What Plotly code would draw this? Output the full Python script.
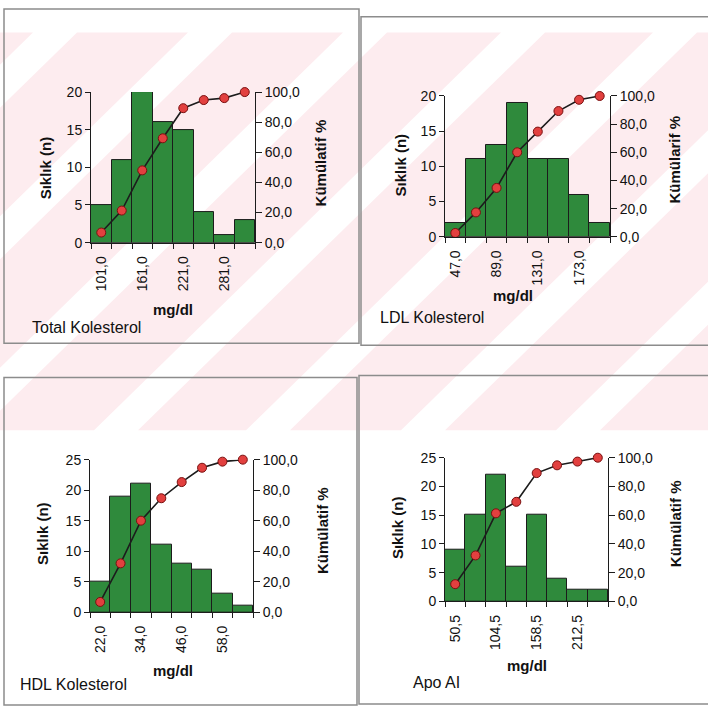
import plotly.graph_objects as go

W, H = 708, 715

# ---------------- data ----------------
bin_index = [0, 1, 2, 3, 4, 5, 6, 7]
label_index = [0, 2, 4, 6]

tc_counts = [5, 11, 20, 16, 15, 4, 1, 3]
tc_cum = [6.7, 21.3, 48.0, 69.3, 89.3, 94.7, 96.0, 100.0]
tc_ticks = ["101,0", "161,0", "221,0", "281,0"]

ldl_counts = [2, 11, 13, 19, 11, 11, 6, 2]
ldl_cum = [2.7, 17.3, 34.7, 60.0, 74.7, 89.3, 97.3, 100.0]
ldl_ticks = ["47,0", "89,0", "131,0", "173,0"]

hdl_counts = [5, 19, 21, 11, 8, 7, 3, 1]
hdl_cum = [6.7, 32.0, 60.0, 74.7, 85.3, 94.7, 98.7, 100.0]
hdl_ticks = ["22,0", "34,0", "46,0", "58,0"]

apo_counts = [9, 15, 22, 6, 15, 4, 2, 2]
apo_cum = [12.0, 32.0, 61.3, 69.3, 89.3, 94.7, 97.3, 100.0]
apo_ticks = ["50,5", "104,5", "158,5", "212,5"]

FONT = "Liberation Sans, Arial, sans-serif"
BAR = "#2f8a3c"
INK = "#1c1c1c"


def px(x):
    return x / W


def py(y):
    return 1 - y / H


panels = [
    dict(counts=tc_counts, cum=tc_cum, ticks=tc_ticks, ymax=20,
         plot=(91, 255, 86, 240), left=(45, 164), right=(320, 159, "Kümülatif %"),
         unit=(173, 308), name=(30, 327, "Total Kolesterol")),
    dict(counts=ldl_counts, cum=ldl_cum, ticks=ldl_ticks, ymax=20,
         plot=(445, 610, 90, 234), left=(400, 161), right=(675, 155, "Kümülarif %"),
         unit=(513, 294), name=(378, 317, "LDL Kolesterol")),
    dict(counts=hdl_counts, cum=hdl_cum, ticks=hdl_ticks, ymax=25,
         plot=(90, 253, 462, 618), left=(43, 538), right=(322, 535, "Kümülatif %"),
         unit=(173, 678), name=(18, 692, "HDL Kolesterol")),
    dict(counts=apo_counts, cum=apo_cum, ticks=apo_ticks, ymax=25,
         plot=(445, 608, 460, 607), left=(397, 532), right=(675, 528, "Kümülatif %"),
         unit=(527, 673), name=(411, 690, "Apo AI")),
]

fig = go.Figure()
annotations = []
shapes = []

# ---- faint watermark stripes (background decoration) ----
PINK = "#fdecef"
y_top, y_bot = 25, 432
for c1, c2 in [(-200, 58), (102, 213), (257, 368), (412, 526), (570, 678),
               (722, 833), (877, 988), (1032, 1140)]:
    pts = [(c1 - y_top, y_top), (c2 - y_top, y_top), (c2 - y_bot, y_bot), (c1 - y_bot, y_bot)]
    path = "M " + " L ".join(f"{px(a):.4f},{py(b):.4f}" for a, b in pts) + " Z"
    shapes.append(dict(type="path", path=path, xref="paper", yref="paper",
                       fillcolor=PINK, line=dict(width=0), layer="below"))

# ---- panel frames ----
for x0, x1, y0, y1 in [(4, 359, 1, 343), (361, 712, 9, 345), (4, 357, 378, 713), (359, 712, 376, 712)]:
    shapes.append(dict(type="rect", xref="paper", yref="paper",
                       x0=px(x0), x1=px(x1), y0=py(y1), y1=py(y0),
                       line=dict(color="#8c8c8c", width=1.5), fillcolor="rgba(0,0,0,0)",
                       layer="above"))

for i, p in enumerate(panels):
    n = i + 1
    xa = "x" if n == 1 else f"x{n}"
    ya = "y" if i == 0 else f"y{2 * i + 1}"
    ya2 = f"y{2 * i + 2}"
    xkey = "xaxis" if n == 1 else f"xaxis{n}"
    ykey = "yaxis" if i == 0 else f"yaxis{2 * i + 1}"
    y2key = f"yaxis{2 * i + 2}"
    L, R, T, B = p["plot"]

    fig.add_trace(go.Bar(x=bin_index, y=p["counts"], xaxis=xa, yaxis=ya, width=1,
                         marker=dict(color=BAR, line=dict(color=INK, width=1)),
                         showlegend=False, hoverinfo="y"))
    fig.add_trace(go.Scatter(x=bin_index, y=p["cum"], xaxis=xa, yaxis=ya2, mode="lines+markers",
                             line=dict(color=INK, width=1.6), cliponaxis=False,
                             marker=dict(color="#e2403f", size=9, line=dict(color="#7a1010", width=1)),
                             showlegend=False, hoverinfo="y"))

    tickfont = dict(family=FONT, size=14, color="#111")
    fig.layout[xkey] = dict(domain=[px(L), px(R)], anchor=ya, range=[-0.5, 7.5],
                            showline=True, linecolor=INK, linewidth=1, showgrid=False, zeroline=False,
                            tickvals=label_index, ticktext=p["ticks"], tickangle=-90,
                            ticks="outside", ticklen=7, tickcolor="rgba(0,0,0,0)",
                            minor=dict(ticks="outside", tick0=-0.5, dtick=1, ticklen=5,
                                       tickcolor=INK, showgrid=False),
                            tickfont=tickfont, fixedrange=True)
    fig.layout[ykey] = dict(domain=[py(B), py(T)], anchor=xa, range=[0, p["ymax"]], dtick=5,
                            showline=True, linecolor=INK, linewidth=1, showgrid=False, zeroline=False,
                            ticks="outside", ticklen=5, tickcolor=INK, tickfont=tickfont,
                            fixedrange=True)
    fig.layout[y2key] = dict(overlaying=ya, side="right", anchor=xa, range=[0, 100], dtick=20,
                             tickformat=".1f", showline=True, linecolor=INK, linewidth=1,
                             showgrid=False, zeroline=False, ticks="outside", ticklen=6,
                             tickcolor=INK, tickfont=tickfont, fixedrange=True)

    title_font = dict(family=FONT, size=15, color="#111")
    annotations.append(dict(x=px(p["left"][0]), y=py(p["left"][1]), xref="paper", yref="paper",
                            text="<b>Sıklık (n)</b>", textangle=-90, showarrow=False,
                            font=title_font, xanchor="center", yanchor="middle"))
    annotations.append(dict(x=px(p["right"][0]), y=py(p["right"][1]), xref="paper", yref="paper",
                            text=f"<b>{p['right'][2]}</b>", textangle=-90, showarrow=False,
                            font=title_font, xanchor="center", yanchor="middle"))
    annotations.append(dict(x=px(p["unit"][0]), y=py(p["unit"][1]), xref="paper", yref="paper",
                            text="<b>mg/dl</b>", showarrow=False, font=title_font,
                            xanchor="center", yanchor="middle"))
    annotations.append(dict(x=px(p["name"][0]), y=py(p["name"][1]), xref="paper", yref="paper",
                            text=p["name"][2], showarrow=False,
                            font=dict(family=FONT, size=16, color="#111"),
                            xanchor="left", yanchor="middle"))

fig.update_layout(width=W, height=H, margin=dict(l=0, r=0, t=0, b=0),
                  paper_bgcolor="white", plot_bgcolor="rgba(0,0,0,0)",
                  separators=",.", bargap=0, showlegend=False,
                  annotations=annotations, shapes=shapes,
                  font=dict(family=FONT))

fig.write_html("out.html", config={"displayModeBar": False},
               post_script="document.body.style.margin='0';document.body.style.overflow='hidden';")
